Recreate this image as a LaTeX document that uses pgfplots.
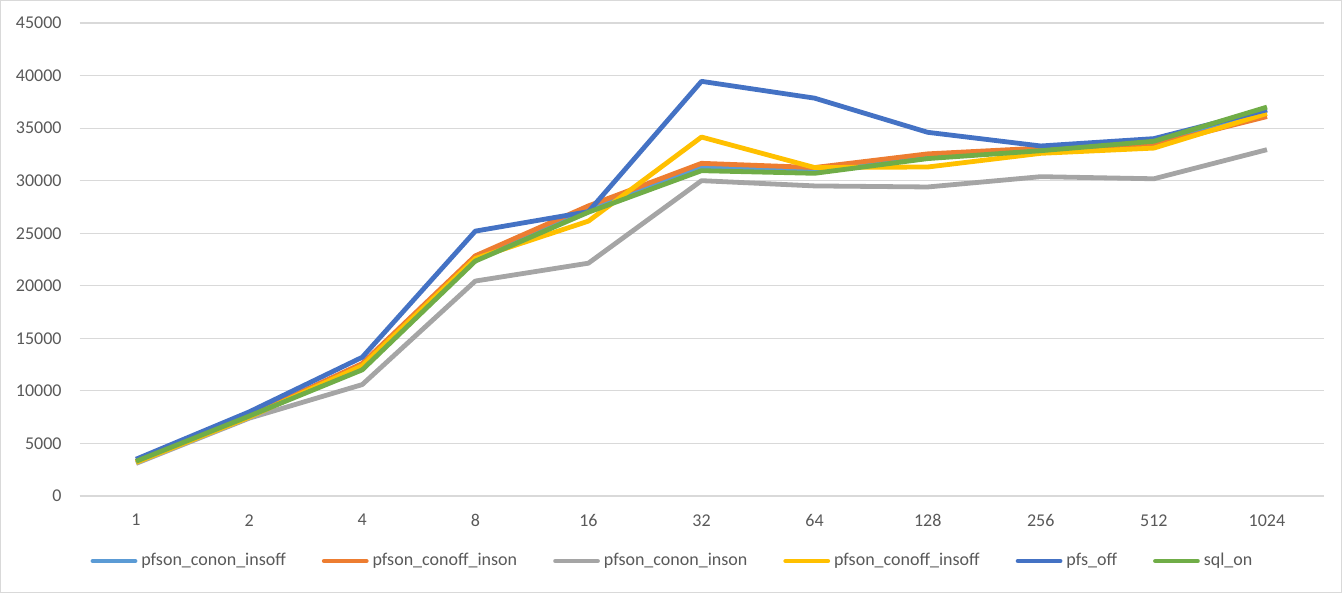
\documentclass[border=0pt]{standalone}
\usepackage{fontspec}
\setmainfont{Carlito}
\usepackage{pgfplots}
\pgfplotsset{compat=1.18}
\definecolor{cA}{HTML}{5B9BD5}
\definecolor{cB}{HTML}{ED7D31}
\definecolor{cC}{HTML}{A5A5A5}
\definecolor{cD}{HTML}{FFC000}
\definecolor{cE}{HTML}{4472C4}
\definecolor{cF}{HTML}{70AD47}
\definecolor{grid}{HTML}{D9D9D9}
\definecolor{txt}{HTML}{595959}
\begin{document}
\begin{tikzpicture}
\path[use as bounding box] (0,0) rectangle (671pt,296.5pt);
\draw[grid, line width=0.6pt] (0.3pt,0.3pt) rectangle (670.7pt,296.2pt);
\begin{axis}[
  at={(39.75pt,48.5pt)}, anchor=south west,
  scale only axis, width=622pt, height=236.5pt,
  xmin=-0.5, xmax=10.5, ymin=0, ymax=45000,
  xtick={0,...,10},
  xticklabels={1,2,4,8,16,32,64,128,256,512,1024},
  ytick={0,5000,...,45000},
  yticklabels={0,5000,10000,15000,20000,25000,30000,35000,40000,45000},
  scaled y ticks=false,
  axis x line*=bottom, axis y line*=left,
  y axis line style={draw=none},
  x axis line style={draw=grid, line width=0.6pt, -},
  major tick length=0pt,
  ymajorgrids, grid style={draw=grid, line width=0.6pt},
  tick label style={font=\fontsize{9}{11}\selectfont, text=txt, inner sep=0pt},
  yticklabel style={anchor=east, xshift=-8.75pt},
  xticklabel style={anchor=north, yshift=-9pt},
  legend columns=6,
  legend style={at={(0.5,0)}, anchor=center, xshift=-14pt, yshift=-32.5pt,
    draw=none, font=\fontsize{9}{11}\selectfont, text=txt,
    /tikz/every even column/.append style={column sep=16pt}},
  legend image code/.code={\draw[#1, line cap=round] (0pt,0pt) -- (21pt,0pt);},
  legend cell align=left,
  every axis plot/.append style={line width=2.4pt, line join=round},
]
\addplot[cA] coordinates {(0,3300)(1,7600)(2,12300)(3,22500)(4,27200)(5,31300)(6,30900)(7,32200)(8,32900)(9,33700)(10,36700)};
\addlegendentry{pfson\_conon\_insoff}
\addplot[cB] coordinates {(0,3300)(1,7600)(2,12600)(3,22850)(4,27600)(5,31650)(6,31250)(7,32550)(8,33100)(9,33400)(10,36100)};
\addlegendentry{pfson\_conoff\_inson}
\addplot[cC] coordinates {(0,3100)(1,7400)(2,10600)(3,20450)(4,22150)(5,30000)(6,29500)(7,29400)(8,30380)(9,30180)(10,32950)};
\addlegendentry{pfson\_conon\_inson}
\addplot[cD] coordinates {(0,3200)(1,7500)(2,12400)(3,22600)(4,26150)(5,34150)(6,31250)(7,31300)(8,32600)(9,33100)(10,36400)};
\addlegendentry{pfson\_conoff\_insoff}
\addplot[cE] coordinates {(0,3500)(1,8000)(2,13200)(3,25200)(4,27050)(5,39450)(6,37850)(7,34600)(8,33300)(9,34000)(10,36750)};
\addlegendentry{pfs\_off}
\addplot[cF] coordinates {(0,3300)(1,7600)(2,12000)(3,22350)(4,27000)(5,30950)(6,30700)(7,32100)(8,32850)(9,33750)(10,37000)};
\addlegendentry{sql\_on}
\end{axis}
\end{tikzpicture}
\end{document}
